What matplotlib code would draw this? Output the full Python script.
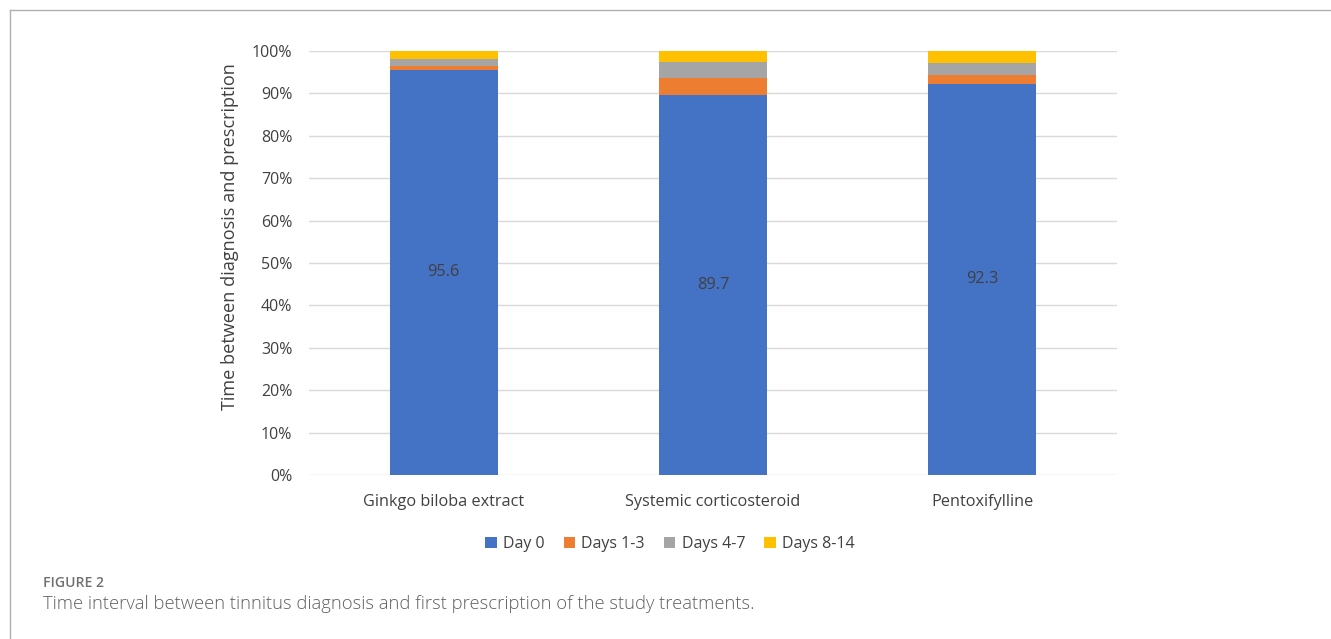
import matplotlib
matplotlib.use("Agg")
import matplotlib.pyplot as plt
from matplotlib.lines import Line2D
from matplotlib.ticker import PercentFormatter

categories = ["Ginkgo biloba extract", "Systemic corticosteroid", "Pentoxifylline"]
series_names = ["Day 0", "Days 1-3", "Days 4-7", "Days 8-14"]
day0 = [95.6, 89.7, 92.3]
days_1_3 = [0.9, 3.9, 2.1]
days_4_7 = [1.7, 3.7, 2.8]
days_8_14 = [1.8, 2.7, 2.8]
colors = ["#4472C4", "#ED7D31", "#A5A5A5", "#FFC000"]

W, H = 1331, 639
fig = plt.figure(figsize=(W / 100, H / 100), dpi=100)
fig.patch.set_facecolor("white")

# frame lines of the figure panel
fig.add_artist(Line2D([10 / W, 10 / W], [0, 1 - 10 / H], transform=fig.transFigure, color="#b0b0b0", lw=1))
fig.add_artist(Line2D([10 / W, 1], [1 - 10 / H, 1 - 10 / H], transform=fig.transFigure, color="#b0b0b0", lw=1))

left, right, top, bottom = 309, 1117, 51, 475
ax = fig.add_axes([left / W, 1 - bottom / H, (right - left) / W, (bottom - top) / H])

font = "Open Sans"
x = list(range(len(categories)))
bottoms = [0.0] * len(categories)
for name, vals, c in zip(series_names, [day0, days_1_3, days_4_7, days_8_14], colors):
    ax.bar(x, vals, width=0.4, bottom=bottoms, color=c, label=name, zorder=3)
    bottoms = [b + v for b, v in zip(bottoms, vals)]

for xi, v in zip(x, day0):
    ax.text(xi, v / 2, f"{v:.1f}", ha="center", va="center", fontsize=11.7,
            color="#404040", family=font, zorder=4)

ax.set_xlim(-0.5, 2.5)
ax.set_ylim(0, 100)
ax.set_yticks(range(0, 101, 10))
ax.yaxis.set_major_formatter(PercentFormatter(decimals=0))
ax.grid(axis="y", color="#d9d9d9", lw=1, zorder=0)
for s in ["top", "right", "left", "bottom"]:
    ax.spines[s].set_visible(False)
ax.tick_params(axis="y", length=0, labelsize=11.5, colors="#404040", pad=12)
ax.tick_params(axis="x", length=0, labelsize=11.7, colors="#404040", pad=14)
ax.set_xticks(x)
ax.set_xticklabels(categories, family=font)
for lab in ax.get_yticklabels():
    lab.set_family(font)

fig.text(230 / W, 1 - 237 / H, "Time between diagnosis and prescription", fontsize=13.1,
         family=font, color="#404040", rotation=90, ha="center", va="center")

leg = fig.legend(loc="center", bbox_to_anchor=(670 / W, 1 - 544 / H), ncol=4, frameon=False,
                 prop={"family": font, "size": 11.5}, handlelength=0.7, handleheight=0.7,
                 columnspacing=1.2, handletextpad=0.4)
for t in leg.get_texts():
    t.set_color("#404040")

t1 = fig.text(43 / W, 1 - 583 / H, "FIGURE 2", fontsize=10, color="#707070", family=font,
              weight="semibold", va="center", ha="left")
t2 = fig.text(43 / W, 1 - 604 / H,
              "Time interval between tinnitus diagnosis and first prescription of the study treatments.",
              fontsize=12, color="#606060", family=font, weight="light", va="center", ha="left")

# scale caption font sizes to the measured text widths
fig.canvas.draw()
r = fig.canvas.get_renderer()
for t, target in [(t1, 61), (t2, 711)]:
    w = t.get_window_extent(r).width
    t.set_fontsize(t.get_fontsize() * target / w)

fig.savefig("out.png", dpi=100)
